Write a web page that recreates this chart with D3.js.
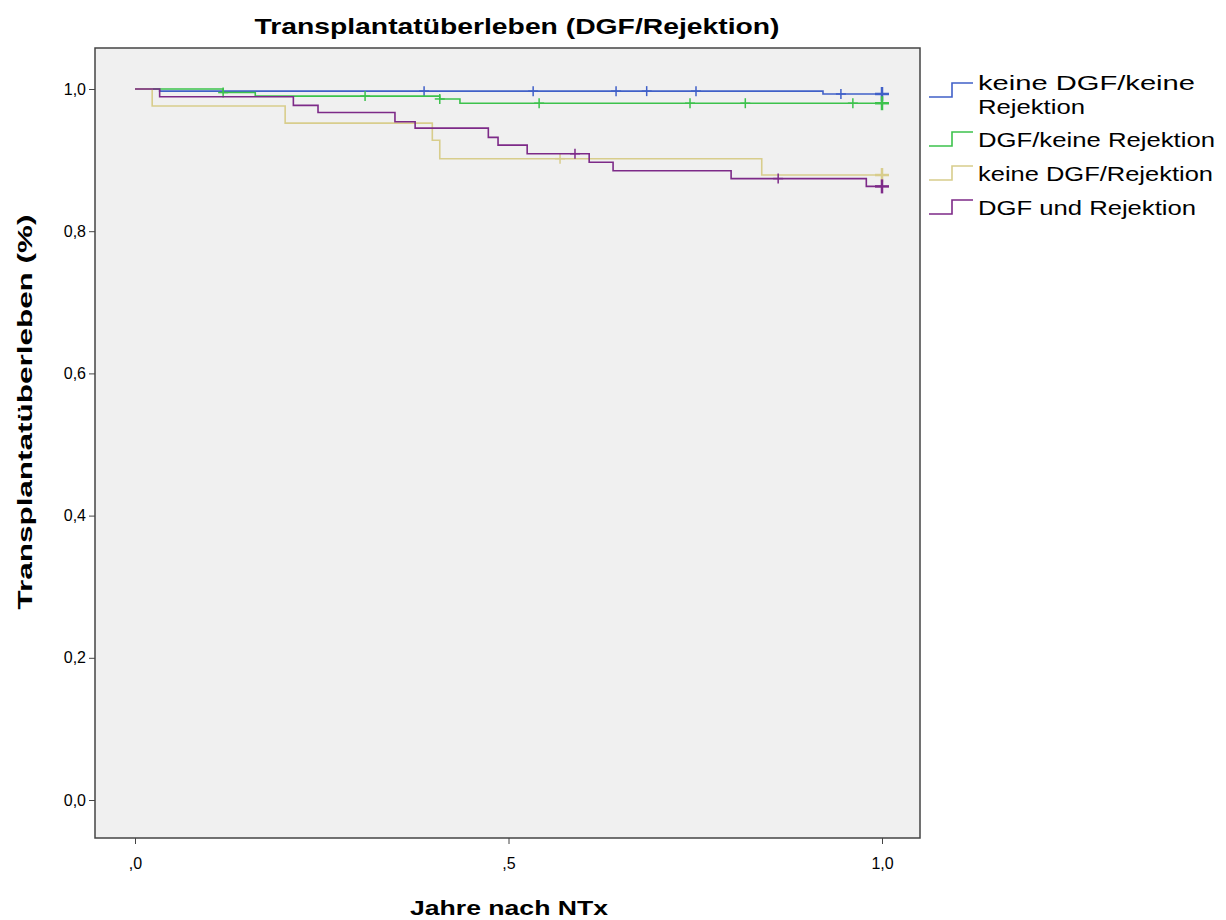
<!DOCTYPE html><html><head><meta charset="utf-8"><script src="https://cdn.jsdelivr.net/npm/d3@7"></script>
<style>body{margin:0;background:#fff}text{font-family:Arial,"Liberation Sans",sans-serif}</style></head><body><svg width="1226" height="920"></svg><script>
const seriesNames=["keine DGF/keine Rejektion","DGF/keine Rejektion","keine DGF/Rejektion","DGF und Rejektion"];
const colors=["#4060c8","#3cc24c","#d8cd8c","#7d2a88"];
const steps=[
 [[0,1],[0.033,0.997],[0.921,0.993]],
 [[0,1],[0.118,0.995],[0.161,0.990],[0.408,0.986],[0.435,0.980]],
 [[0,1],[0.023,0.976],[0.201,0.952],[0.398,0.928],[0.408,0.902],[0.839,0.879]],
 [[0,1],[0.033,0.989],[0.212,0.977],[0.245,0.967],[0.348,0.954],[0.375,0.945],[0.473,0.932],[0.486,0.921],[0.525,0.909],[0.608,0.897],[0.640,0.885],[0.798,0.874],[0.979,0.863]]
];
const censors=[
 [0.387,0.533,0.644,0.685,0.751,0.945],
 [0.118,0.308,0.408,0.541,0.743,0.817,0.961],
 [0.569],
 [0.589,0.861]
];
const xTicks=[0,0.5,1.0], xLabels=[",0",",5","1,0"];
const yTicks=[0,0.2,0.4,0.6,0.8,1.0], yLabels=["0,0","0,2","0,4","0,6","0,8","1,0"];
const svg=d3.select("svg");
const x=d3.scaleLinear().domain([0,1]).range([135,882]);
const y=d3.scaleLinear().domain([0,1]).range([800,89]);
svg.append("rect").attr("x",95).attr("y",48).attr("width",825).attr("height",790).attr("fill","#f0f0f0").attr("stroke","#444").attr("stroke-width",1.5);
svg.append("text").attr("x",517).attr("y",34).attr("text-anchor","middle").attr("font-size",22).attr("font-weight","bold").attr("textLength",525).attr("lengthAdjust","spacingAndGlyphs").text("Transplantatüberleben (DGF/Rejektion)");
const xa=svg.append("g").attr("transform","translate(0,838)").call(d3.axisBottom(x).tickValues(xTicks).tickFormat((d,i)=>xLabels[i]).tickSize(6).tickSizeOuter(0));
xa.select(".domain").remove();xa.selectAll("text").attr("font-size",16).attr("dy","1.4em");xa.selectAll("line").attr("stroke","#444");
const ya=svg.append("g").attr("transform","translate(95,0)").call(d3.axisLeft(y).tickValues(yTicks).tickFormat((d,i)=>yLabels[i]).tickSize(6).tickSizeOuter(0));
ya.select(".domain").remove();ya.selectAll("text").attr("font-size",16);ya.selectAll("line").attr("stroke","#444");
svg.append("text").attr("x",509).attr("y",915).attr("text-anchor","middle").attr("font-size",20).attr("font-weight","bold").attr("textLength",198).attr("lengthAdjust","spacingAndGlyphs").text("Jahre nach NTx");
svg.append("text").attr("transform","translate(32,412) rotate(-90)").attr("text-anchor","middle").attr("font-size",20).attr("font-weight","bold").attr("textLength",395).attr("lengthAdjust","spacingAndGlyphs").text("Transplantatüberleben (%)");
const line=d3.line().x(d=>x(d[0])).y(d=>y(d[1])).curve(d3.curveStepAfter);
function survAt(s,t){let v=1;for(const p of s)if(p[0]<=t)v=p[1];return v;}
steps.forEach((s,i)=>{
 const pts=s.concat([[1,s[s.length-1][1]]]);
 svg.append("path").attr("d",line(pts)).attr("fill","none").attr("stroke",colors[i]).attr("stroke-width",1.6);
 const cs=censors[i].map(t=>[t,survAt(s,t),5]).concat([[1,s[s.length-1][1],7]]);
 cs.forEach(c=>{const cx=x(c[0]),cy=y(c[1]),h=c[2],w=c[2]===7?2.5:1.5;
  svg.append("line").attr("x1",cx).attr("x2",cx).attr("y1",cy-h).attr("y2",cy+h).attr("stroke",colors[i]).attr("stroke-width",w);
  svg.append("line").attr("x1",cx-h).attr("x2",cx+h).attr("y1",cy).attr("y2",cy).attr("stroke",colors[i]).attr("stroke-width",w);});
});
const ly=[80,129,163,197];
const lw=[[217,107],237,235,218];
seriesNames.forEach((n,i)=>{
 const yy=ly[i];
 svg.append("path").attr("d",`M929,${yy+17}H952V${yy+3}H973`).attr("fill","none").attr("stroke",colors[i]).attr("stroke-width",1.6);
 const t=(s,yv,w)=>svg.append("text").attr("x",978).attr("y",yv).attr("font-size",20).attr("textLength",w).attr("lengthAdjust","spacingAndGlyphs").text(s);
 if(i===0){t("keine DGF/keine",yy+10,lw[0][0]);t("Rejektion",yy+34,lw[0][1]);}
 else t(n,yy+18,lw[i]);
});
</script></body></html>
